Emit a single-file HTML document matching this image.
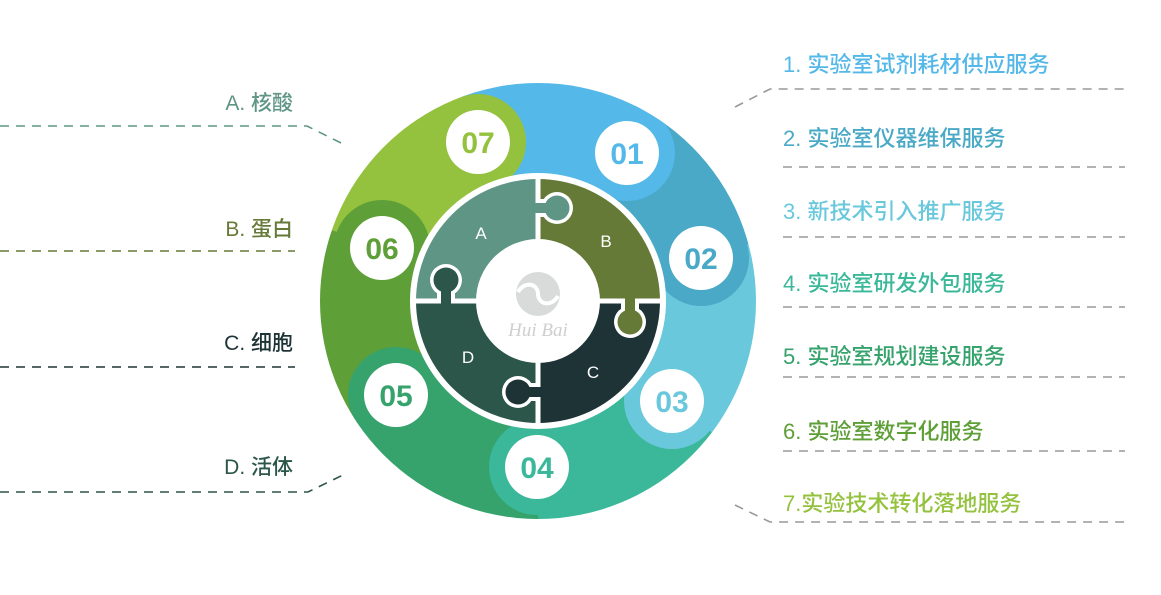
<!DOCTYPE html>
<html><head><meta charset="utf-8"><style>
html,body{margin:0;padding:0;background:#fff;}
svg{display:block}
text{font-family:"Liberation Sans","Noto Sans CJK SC",sans-serif;}
</style></head><body>
<svg width="1161" height="595" viewBox="0 0 1161 595" xmlns="http://www.w3.org/2000/svg">
<defs><clipPath id="oc"><circle cx="538" cy="301" r="218"/></clipPath></defs>
<g clip-path="url(#oc)">
<polygon points="538,301 431,21 564,2 693,44" fill="#54b8e8"/>
<polygon points="538,301 693,44 778,120 828,223" fill="#4aa9c6"/>
<polygon points="538,301 828,223 833,358 778,482" fill="#6ac8dc"/>
<polygon points="538,301 778,482 674,568 538,601" fill="#3bb89a"/>
<polygon points="538,301 538,601 397,566 289,469" fill="#36a26c"/>
<polygon points="538,301 289,469 241,343 254,203" fill="#5e9f38"/>
<polygon points="538,301 254,203 322,93 431,21" fill="#94c23e"/>
<circle cx="627" cy="153" r="48" fill="#54b8e8"/>
<circle cx="701" cy="258" r="48" fill="#4aa9c6"/>
<circle cx="672" cy="401" r="48" fill="#6ac8dc"/>
<circle cx="537" cy="467" r="48" fill="#3bb89a"/>
<circle cx="396" cy="395" r="48" fill="#36a26c"/>
<circle cx="382" cy="248" r="48" fill="#5e9f38"/>
<circle cx="478" cy="142" r="48" fill="#94c23e"/>
</g>
<g font-weight="bold" font-size="30" text-anchor="middle">
<circle cx="627" cy="153" r="32" fill="#fff"/><text x="627" y="164" fill="#54b8e8">01</text>
<circle cx="701" cy="258" r="32" fill="#fff"/><text x="701" y="269" fill="#4aa9c6">02</text>
<circle cx="672" cy="401" r="32" fill="#fff"/><text x="672" y="412" fill="#6ac8dc">03</text>
<circle cx="537" cy="467" r="32" fill="#fff"/><text x="537" y="478" fill="#3bb89a">04</text>
<circle cx="396" cy="395" r="32" fill="#fff"/><text x="396" y="406" fill="#36a26c">05</text>
<circle cx="382" cy="248" r="32" fill="#fff"/><text x="382" y="259" fill="#5e9f38">06</text>
<circle cx="478" cy="142" r="32" fill="#fff"/><text x="478" y="153" fill="#94c23e">07</text>
</g>
<circle cx="538" cy="301" r="128" fill="#fff"/>
<path d="M538 301 L538 179 A122 122 0 0 0 416 301 Z" fill="#5f9585"/>
<path d="M538 301 L538 179 A122 122 0 0 1 660 301 Z" fill="#667a38"/>
<path d="M538 301 L660 301 A122 122 0 0 1 538 423 Z" fill="#1d3335"/>
<path d="M538 301 L538 423 A122 122 0 0 1 416 301 Z" fill="#2b5649"/>
<line x1="538" y1="175" x2="538" y2="427" stroke="#fff" stroke-width="5"/>
<line x1="412" y1="301" x2="664" y2="301" stroke="#fff" stroke-width="5"/>
<!-- knob outlines -->
<g fill="#fff">
<circle cx="557" cy="208" r="16"/><rect x="540" y="199" width="10" height="18"/>
<circle cx="630" cy="322" r="16"/><rect x="621" y="303" width="18" height="10"/>
<circle cx="518" cy="392" r="16"/><rect x="526" y="383" width="10" height="18"/>
<circle cx="446" cy="280" r="16"/><rect x="437" y="289" width="18" height="10"/>
</g>
<circle cx="557" cy="208" r="12.5" fill="#5f9585"/><rect x="535" y="203" width="14" height="10" fill="#5f9585"/>
<circle cx="630" cy="322" r="12.5" fill="#667a38"/><rect x="625" y="298" width="10" height="14" fill="#667a38"/>
<circle cx="518" cy="392" r="12.5" fill="#1d3335"/><rect x="527" y="387" width="14" height="10" fill="#1d3335"/>
<circle cx="446" cy="280" r="12.5" fill="#2b5649"/><rect x="441" y="290" width="10" height="14" fill="#2b5649"/>
<circle cx="538" cy="301" r="62" fill="#fff"/>
<g fill="#fff" font-size="17" text-anchor="middle">
<text x="481" y="239">A</text><text x="606" y="247">B</text><text x="593" y="378">C</text><text x="468" y="363">D</text>
</g>
<circle cx="538" cy="294" r="22" fill="#d9dbdb"/>
<path d="M518 292 C525 280 538 284 538 294 C538 304 551 308 558 296" fill="none" stroke="#fff" stroke-width="4"/>
<text x="538" y="336" text-anchor="middle" font-family="Liberation Serif,serif" font-style="italic" font-size="19" fill="#cfcfcf" style="font-family:'Liberation Serif',serif">Hui Bai</text>
<g stroke-width="1.6" stroke-dasharray="9,7" fill="none">
<path d="M0 126 L307 126 L345 145" stroke="#5f9585"/>
<path d="M0 251 L295 251" stroke="#667a38"/>
<path d="M0 367 L295 367" stroke="#1d3335"/>
<path d="M0 492 L308 492 L345 474" stroke="#2b5649"/>
<g stroke="#999">
<path d="M735 107 L770 89 L1125 89"/>
<path d="M783 167 L1125 167"/>
<path d="M783 237 L1125 237"/>
<path d="M783 307 L1125 307"/>
<path d="M783 377 L1125 377"/>
<path d="M783 451 L1125 451"/>
<path d="M735 505 L770 522 L1125 522"/>
</g></g>
<g font-size="21" font-weight="500" text-anchor="end">
<text x="293" y="110" fill="#5f9585">A. 核酸</text>
<text x="293" y="236" fill="#667a38">B. 蛋白</text>
<text x="293" y="350" fill="#1d3335">C. 细胞</text>
<text x="293" y="474" fill="#2b5649">D. 活体</text>
</g>
<g font-size="22" font-weight="500">
<text x="783" y="72" fill="#54b8e8">1. 实验室试剂耗材供应服务</text>
<text x="783" y="146" fill="#4aa9c6">2. 实验室仪器维保服务</text>
<text x="783" y="219" fill="#6ac8dc">3. 新技术引入推广服务</text>
<text x="783" y="291" fill="#3bb89a">4. 实验室研发外包服务</text>
<text x="783" y="364" fill="#36a26c">5. 实验室规划建设服务</text>
<text x="783" y="439" fill="#5e9f38">6. 实验室数字化服务</text>
<text x="783" y="511" fill="#94c23e">7.实验技术转化落地服务</text>
</g>
</svg>
</body></html>
